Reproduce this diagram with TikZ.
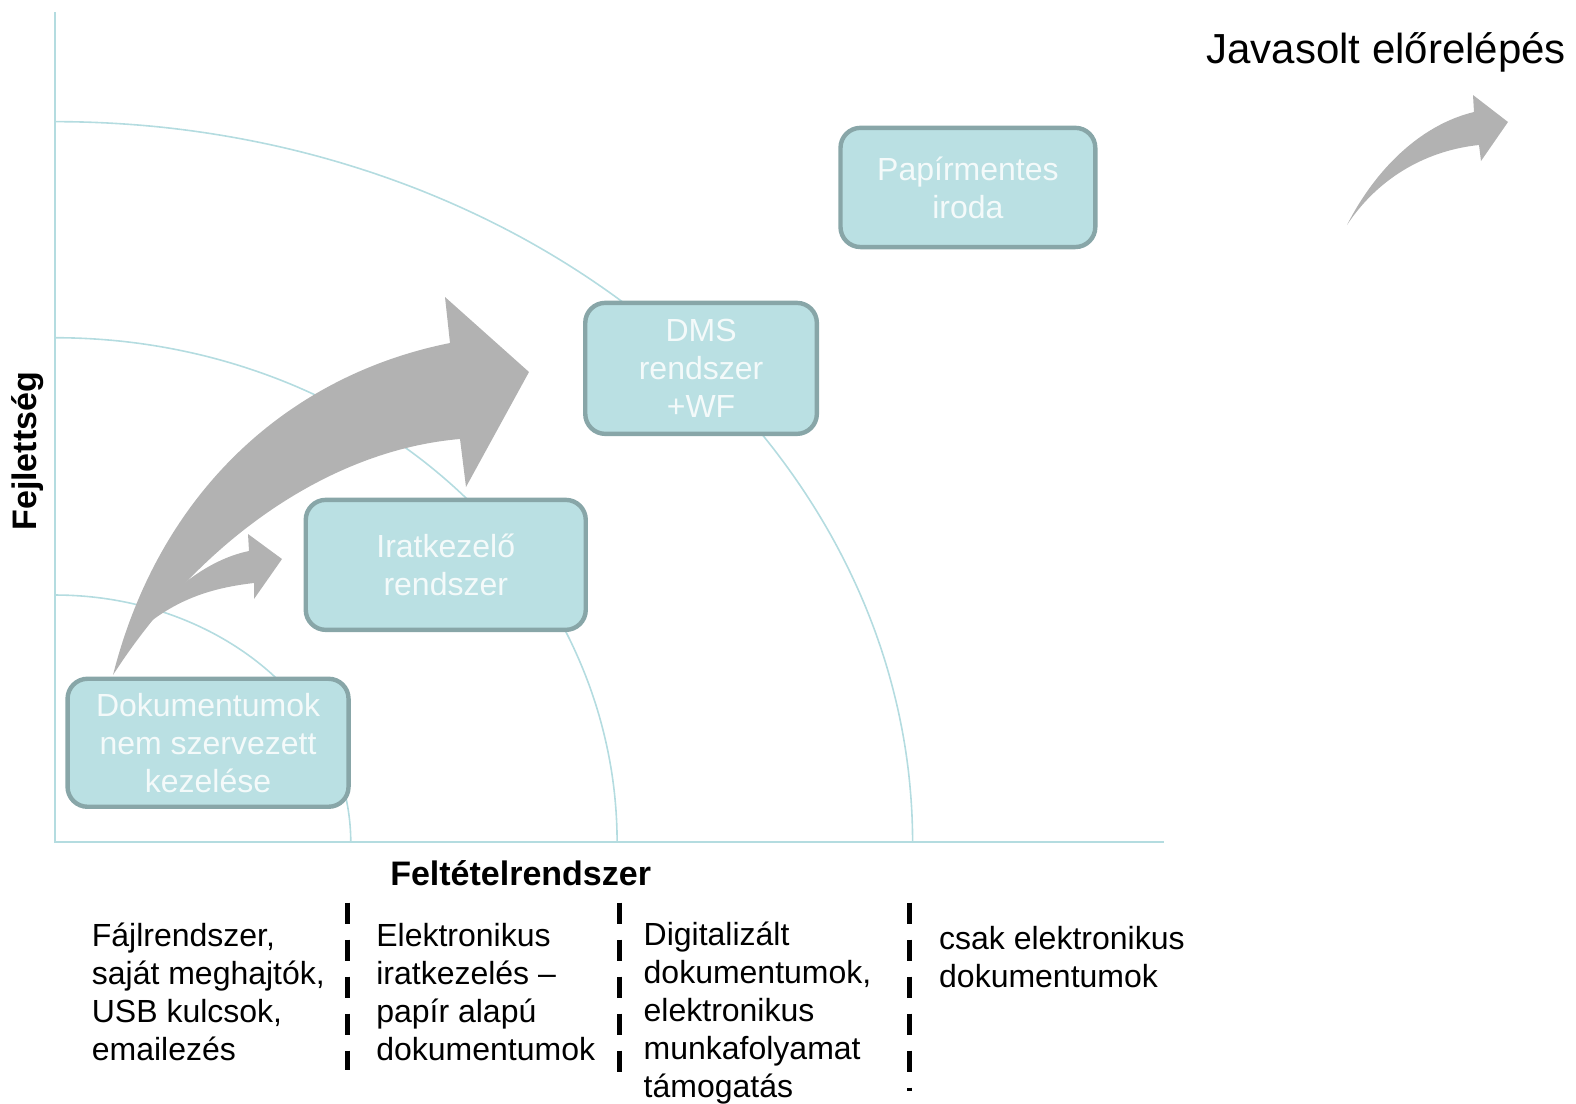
\documentclass[tikz,border=0pt]{standalone}
\usepackage{fontspec}
\setmainfont{Liberation Sans}
\definecolor{axisc}{HTML}{B4DCE0}
\definecolor{boxfill}{HTML}{BAE0E3}
\definecolor{boxline}{HTML}{88A6A8}
\definecolor{arrowc}{HTML}{B2B2B2}
\definecolor{boxtext}{HTML}{F4FAFA}
\begin{document}
\begin{tikzpicture}[x=0.5pt,y=-0.5pt,
  stage/.style={draw=boxline, line width=2.2pt, fill=boxfill, rounded corners=10pt, text=boxtext, font=\fontsize{16}{19}\selectfont, align=center, inner sep=0pt},
  note/.style={font=\fontsize{16}{19}\selectfont, align=left, anchor=north west, inner sep=0pt},
  axisline/.style={draw=axisc, line width=0.8pt},
  divider/.style={line width=2.5pt, dash pattern=on 10.5pt off 8pt},
  grayarrow/.style={fill=arrowc, draw=none}]
\useasboundingbox (0,0) rectangle (1576,1104);
\begin{scope}[scale=1.0051]
% axes
\draw[axisline] (55,12) -- (55,838) -- (1158,838);
% arcs
\draw[axisline] plot[domain=0:90, samples=80, smooth] ({55+294*cos(\x)},{838-246*sin(\x)});
\draw[axisline] plot[domain=0:90, samples=80, smooth] ({55+559*cos(\x)},{838-502*sin(\x)});
\draw[axisline] plot[domain=0:90, samples=80, smooth] ({55+853*cos(\x)},{838-717*sin(\x)});
\end{scope}
% arrows
\fill[grayarrow] (113,675) .. controls (160,490) and (290,375) .. (450,343) -- (445,297) -- (529,372) -- (466,487) -- (460,439) .. controls (330,450) and (200,540) .. (113,675) -- cycle;
\fill[grayarrow] (140,630) .. controls (165,595) and (205,560) .. (249,551) -- (248,534) -- (282,559) -- (254,599) -- (254,583) .. controls (210,588) and (175,600) .. (140,630) -- cycle;
\fill[grayarrow] (1347,225) .. controls (1375,170) and (1420,125) .. (1474,112) -- (1473,95) -- (1508,122) -- (1481,161) -- (1479,145) .. controls (1430,150) and (1380,175) .. (1347,225) -- cycle;
\begin{scope}[scale=1.0051]
% boxes
\node[stage, minimum width=140.5pt, minimum height=64pt] (doc) at (207,739) {Dokumentumok\\nem szervezett\\kezelése};
\node[stage, minimum width=140pt, minimum height=65pt] (irat) at (443.5,562) {Iratkezelő\\rendszer};
\node[stage, minimum width=115.8pt, minimum height=65.5pt] (dms) at (697.5,366.5) {DMS\\rendszer\\+WF};
\node[stage, minimum width=127.4pt, minimum height=59.6pt] (paper) at (963,186.5) {Papírmentes\\iroda};
% labels
\node[font=\bfseries\fontsize{17}{20}\selectfont, inner sep=0pt] (xlab) at (518,869) {Feltételrendszer};
\node[font=\bfseries\fontsize{17}{20}\selectfont, rotate=90, inner sep=0pt] (ylab) at (27,449) {Fejlettség};
\node[font=\fontsize{21}{25}\selectfont, anchor=base west, inner sep=0pt] (prop) at (1200,63) {Javasolt előrelépés};
% bottom notes
\node[note] (c1) at (91,918) {Fájlrendszer,\\saját meghajtók,\\USB kulcsok,\\emailezés};
\node[note] (c2) at (374,918) {Elektronikus\\iratkezelés –\\papír alapú\\dokumentumok};
\node[note] (c3) at (640,917) {Digitalizált\\dokumentumok,\\elektronikus\\munkafolyamat\\támogatás};
\node[note] (c4) at (934,921) {csak elektronikus\\dokumentumok};
% dividers
\draw[divider] (346,898) -- (346,1065);
\draw[divider] (616,898) -- (616,1067);
\draw[divider] (905,898) -- (905,1085);
\end{scope}
\end{tikzpicture}
\end{document}
